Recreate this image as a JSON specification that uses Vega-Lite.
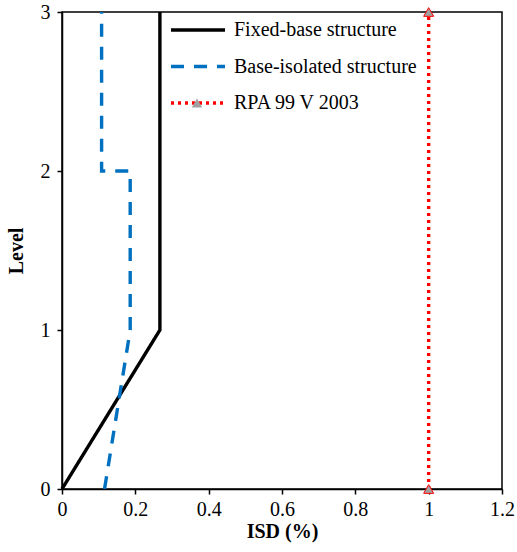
{
  "$schema": "https://vega.github.io/schema/vega-lite/v6.json",
  "autosize": {"type": "none"},
  "padding": {"left": 62, "top": 12, "right": 15, "bottom": 63},
  "width": 440,
  "height": 477,
  "config": {
    "font": "Liberation Serif, serif",
    "view": {"stroke": "black", "strokeWidth": 1.5},
    "axis": {
      "grid": false,
      "labelFlush": false,
      "labelOverlap": false,
      "domainColor": "black",
      "domainWidth": 1.5,
      "tickColor": "black",
      "tickWidth": 1.5,
      "tickSize": 5,
      "labelFont": "Liberation Serif, serif",
      "labelFontSize": 20,
      "labelColor": "black",
      "titleFont": "Liberation Serif, serif",
      "titleFontSize": 20,
      "titleFontWeight": "bold",
      "titleColor": "black"
    },
    "legend": {
      "labelFont": "Liberation Serif, serif",
      "labelFontSize": 20,
      "labelColor": "black",
      "labelLimit": 400
    }
  },
  "data": {
    "values": [
      {"series": "Fixed-base structure", "x": 0, "level": 0, "ord": 1},
      {"series": "Fixed-base structure", "x": 0.267, "level": 1, "ord": 2},
      {"series": "Fixed-base structure", "x": 0.267, "level": 3, "ord": 3},
      {"series": "Base-isolated structure", "x": 0.116, "level": 0, "ord": 1},
      {"series": "Base-isolated structure", "x": 0.186, "level": 1, "ord": 2},
      {"series": "Base-isolated structure", "x": 0.186, "level": 2, "ord": 3},
      {"series": "Base-isolated structure", "x": 0.108, "level": 2, "ord": 4},
      {"series": "Base-isolated structure", "x": 0.108, "level": 3, "ord": 5},
      {"series": "RPA 99 V 2003", "x": 1, "level": 0, "ord": 1},
      {"series": "RPA 99 V 2003", "x": 1, "level": 3, "ord": 2}
    ]
  },
  "encoding": {
    "x": {
      "field": "x", "type": "quantitative",
      "scale": {"domain": [0, 1.2], "nice": false},
      "axis": {"values": [0, 0.2, 0.4, 0.6, 0.8, 1, 1.2], "format": "~g", "title": "ISD (%)", "titlePadding": 2, "labelPadding": 5}
    },
    "y": {
      "field": "level", "type": "quantitative",
      "scale": {"domain": [0, 3], "nice": false},
      "axis": {"values": [0, 1, 2, 3], "title": "Level", "titlePadding": 14, "labelPadding": 7}
    }
  },
  "layer": [
    {
      "mark": {"type": "line", "strokeWidth": 3.4},
      "encoding": {
        "order": {"field": "ord", "type": "quantitative"},
        "color": {
          "field": "series", "type": "nominal",
          "scale": {"domain": ["Fixed-base structure", "Base-isolated structure", "RPA 99 V 2003"], "range": ["#000000", "#0070C0", "#FF0000"]},
          "legend": {"title": null, "orient": "none", "legendX": 120.5, "legendY": 2.5, "symbolType": "M-2,0H2", "symbolSize": 729, "symbolStrokeWidth": 3.4, "rowPadding": 10.5, "labelOffset": 20.5}
        },
        "strokeDash": {
          "field": "series", "type": "nominal",
          "scale": {"domain": ["Fixed-base structure", "Base-isolated structure", "RPA 99 V 2003"], "range": [[1, 0], [13, 10], [3, 4]]},
          "legend": {"title": null, "orient": "none", "legendX": 120.5, "legendY": 2.5, "symbolType": "M-2,0H2", "symbolSize": 729, "symbolStrokeWidth": 3.4, "rowPadding": 10.5, "labelOffset": 20.5}
        }
      }
    },
    {
      "transform": [{"filter": "datum.series === 'RPA 99 V 2003'"}],
      "mark": {"type": "point", "filled": true, "fill": "#A0A0A0", "stroke": "#FF0000", "strokeWidth": 1, "size": 100, "opacity": 1, "clip": false},
      "encoding": {
        "shape": {
          "field": "series", "type": "nominal",
          "scale": {"domain": ["RPA 99 V 2003"], "range": ["triangle-up"]},
          "legend": {"title": null, "orient": "none", "legendX": 125, "legendY": 81, "labelExpr": "''", "symbolSize": 110, "symbolFillColor": "#A0A0A0", "symbolStrokeColor": "#FF0000", "symbolStrokeWidth": 1, "symbolOpacity": 1}
        }
      }
    }
  ]
}
